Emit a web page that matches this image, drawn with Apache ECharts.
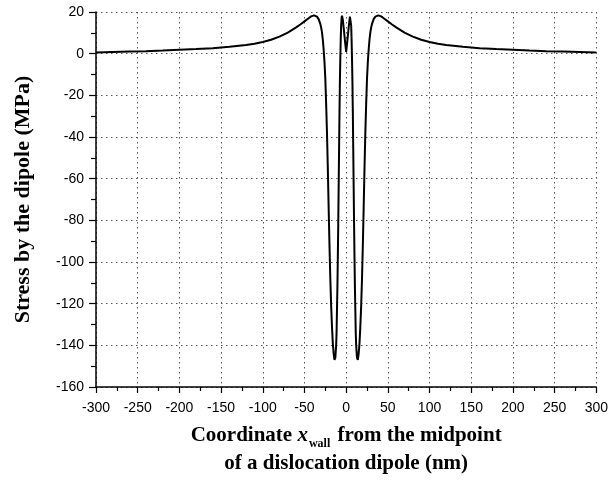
<!DOCTYPE html>
<html>
<head>
<meta charset="utf-8">
<script src="https://cdn.jsdelivr.net/npm/echarts@6/dist/echarts.min.js"></script>
<style>html,body{margin:0;padding:0;background:#fff}#c{width:611px;height:483px}</style>
</head>
<body>
<div id="c"></div>
<script>
// Coordinate x_wall (nm)
var xs = [-300,-280,-260,-240,-220,-200,-180,-160,-140,-120,-110,-100,-90,-80,-70,-60,-55,-50,-45,-42,-40,-38.5,-37,-35,-33,-31,-30,-29,-28,-27,-26,-25,-24,-23,-22,-21,-20,-19,-18,-17,-16,-15,-14,-13,-12,-11.5,-11,-10.5,-10,-9.5,-9,-8.5,-8,-7.5,-7,-6.5,-6,-5.5,-5,-4.5,-4,-3,-2,-1,0,
  1,2,3,4,4.5,5,5.5,6,6.5,7,7.5,8,8.5,9,9.5,10,10.5,11,11.5,12,13,14,15,16,17,18,19,20,21,22,23,24,25,26,27,28,29,30,31,33,35,37,38.5,40,42,45,50,55,60,70,80,90,100,110,120,140,160,180,200,220,240,260,280,300];
// Stress by the dipole (MPa)
var ys = [0.6,0.8,1.0,1.2,1.5,1.9,2.2,2.6,3.3,4.2,4.8,5.6,6.7,8.2,10.1,12.6,14,15.5,17,17.9,18.3,18.4,18.3,17.8,16.6,14.3,12.6,10.2,6.8,2.0,-4,-12,-24,-38,-55,-74,-92,-108,-121,-131,-139,-144,-147,-146,-140,-134,-123,-112,-98,-82,-64,-46,-28,-13,-2,7,13.5,17,18.2,17.8,16.2,12.5,8.5,4.5,0.8,
  4.5,8.5,12.5,16.2,17.8,18.2,17,13.5,7,-2,-13,-28,-46,-64,-82,-98,-112,-123,-134,-140,-146,-147,-144,-139,-131,-121,-108,-92,-74,-55,-38,-24,-12,-4,2.0,6.8,10.2,12.6,14.3,16.6,17.8,18.3,18.4,18.3,17.9,17,15.5,14,12.6,10.1,8.2,6.7,5.6,4.8,4.2,3.3,2.6,2.2,1.9,1.5,1.2,1.0,0.8,0.6];
var xTicks = [-300,-250,-200,-150,-100,-50,0,50,100,150,200,250,300];
var yTicks = [-160,-140,-120,-100,-80,-60,-40,-20,0,20];

var data = xs.map(function(x,i){return [x, ys[i]];});
var chart = echarts.init(document.getElementById('c'), null, {renderer:'canvas'});
var axisFont = {fontFamily:'Liberation Sans', fontSize:14, color:'#000'};
var grid = {show:true, lineStyle:{color:'#555', type:[1.5,3.5], width:1}};
var nf = 21;
chart.setOption({
  animation:false,
  backgroundColor:'#fff',
  grid:{left:96, right:9, top:12, bottom:96},
  xAxis:{
    type:'value', min:xTicks[0], max:xTicks[xTicks.length-1], interval:50,
    axisLine:{show:true, onZero:false, lineStyle:{color:'#000', width:1.5}},
    axisTick:{show:true, inside:false, length:6, lineStyle:{color:'#000', width:1.2}},
    minorTick:{show:true, splitNumber:2, length:4, lineStyle:{color:'#000', width:1.2}},
    axisLabel:Object.assign({margin:14}, axisFont),
    splitLine:grid,
    name:'{b|Coordinate }{i|x}{s|wall}{b| from the midpoint}\n{b|of a dislocation dipole (nm)}',
    nameLocation:'middle', nameGap:35,
    nameTextStyle:{
      fontFamily:'Liberation Serif', fontWeight:'bold', fontSize:nf, color:'#000', lineHeight:28,
      rich:{
        b:{fontFamily:'Liberation Serif', fontWeight:'bold', fontSize:nf, color:'#000', lineHeight:28},
        i:{fontFamily:'Liberation Serif', fontWeight:'bold', fontStyle:'italic', fontSize:nf, color:'#000', lineHeight:28},
        s:{fontFamily:'Liberation Serif', fontWeight:'bold', fontSize:12, color:'#000', lineHeight:28, verticalAlign:'bottom', padding:[12,2,0,1]}
      }
    }
  },
  yAxis:{
    type:'value', min:yTicks[0], max:yTicks[yTicks.length-1], interval:20,
    axisLine:{show:true, onZero:false, lineStyle:{color:'#000', width:1.5}},
    axisTick:{show:true, inside:false, length:7, lineStyle:{color:'#000', width:1.2}},
    minorTick:{show:true, splitNumber:2, length:5, lineStyle:{color:'#000', width:1.2}},
    axisLabel:Object.assign({margin:12}, axisFont),
    splitLine:grid,
    name:'Stress by the dipole (MPa)',
    nameLocation:'middle', nameGap:62,
    nameTextStyle:{fontFamily:'Liberation Serif', fontWeight:'bold', fontSize:22, color:'#000'}
  },
  series:[{
    type:'line', data:data, showSymbol:false, smooth:false,
    lineStyle:{color:'#000', width:2}, clip:true
  }]
});
</script>
</body>
</html>
